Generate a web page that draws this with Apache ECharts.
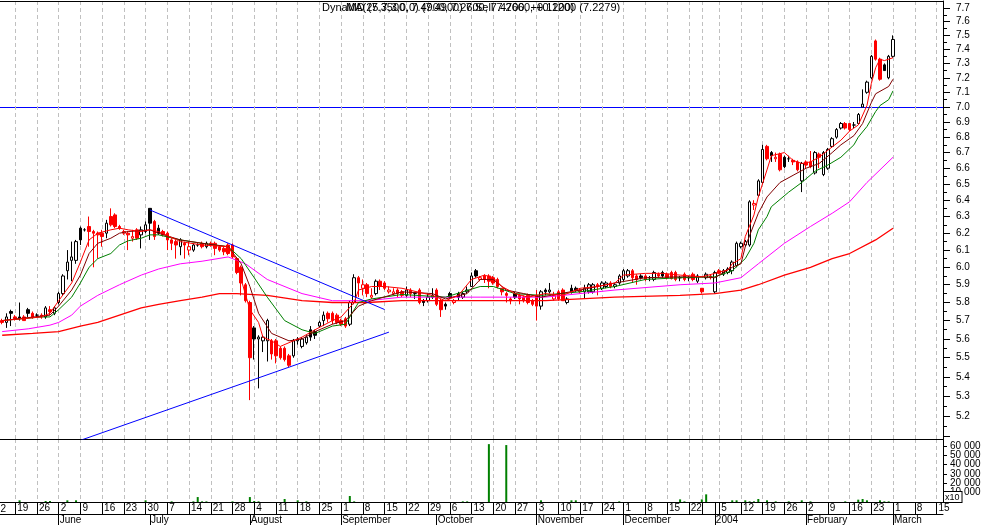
<!DOCTYPE html>
<html>
<head>
<meta charset="utf-8">
<title>DynaMD</title>
<script src="https://cdn.jsdelivr.net/npm/echarts@6.0.0/dist/echarts.min.js"></script>
<style>
html,body{margin:0;padding:0;background:#ffffff;}
#chart{width:982px;height:525px;}
</style>
</head>
<body>
<div id="chart"></div>
<script>
const FONT = '"Liberation Sans", Arial, sans-serif';

// ---- calendar of the axis ----
const axisStart = '2003-05-14';
const axisEnd = '2004-03-16';
const holidays = ['2003-12-25', '2003-12-26', '2004-01-01'];
const monthLabels = ['June', 'July', 'August', 'September', 'October', 'November', 'December', '2004', 'February', 'March'];

// ---- price data (one entry per trading day from 2003-05-14) ----
const open = [5.70,5.69,5.75,5.72,5.72,5.72,5.76,5.74,5.73,5.73,
5.72,5.76,5.74,5.80,5.85,5.98,6.04,6.04,6.23,6.22,
6.24,6.21,6.20,6.20,6.20,6.30,6.31,6.24,6.20,6.20,
6.17,6.22,6.19,6.21,6.35,6.27,6.23,6.21,6.20,6.16,
6.15,6.12,6.14,6.10,6.10,6.13,6.14,6.12,6.14,6.14,
6.12,6.11,6.13,6.13,6.05,6.00,5.90,5.80,5.66,5.60,
5.59,5.59,5.59,5.59,5.55,5.55,5.51,5.51,5.59,5.56,
5.58,5.65,5.64,5.67,5.70,5.74,5.74,5.73,5.70,5.71,
5.68,5.80,5.94,5.88,5.90,5.83,5.85,5.92,5.91,5.86,
5.85,5.87,5.86,5.84,5.87,5.85,5.87,5.81,5.81,5.83,
5.87,5.81,5.79,5.85,5.80,5.85,5.83,5.86,5.89,5.98,
5.93,5.95,5.95,5.94,5.93,5.88,5.85,5.82,5.85,5.84,
5.83,5.84,5.81,5.84,5.78,5.87,5.86,5.82,5.86,5.87,
5.80,5.88,5.88,5.87,5.86,5.86,5.86,5.90,5.88,5.89,
5.91,5.89,5.91,5.93,5.95,5.98,5.95,5.95,5.95,5.94,
5.93,5.96,5.97,5.96,5.97,5.97,5.94,5.96,5.94,5.96,
5.92,5.88,5.94,5.95,5.86,5.98,5.96,5.97,5.98,6.01,
6.12,6.13,6.13,6.37,6.43,6.51,6.74,6.70,6.66,6.69,
6.67,6.66,6.65,6.64,6.52,6.64,6.64,6.57,6.69,6.56,
6.60,6.74,6.80,6.86,6.89,6.89,6.88,6.89,7.00,7.10,
7.20,7.46,7.33,7.29,7.20,7.35];
const high = [5.71,5.74,5.76,5.73,5.80,5.73,5.77,5.75,5.74,5.74,
5.78,5.78,5.78,5.86,5.96,6.10,6.15,6.16,6.24,6.23,
6.30,6.22,6.21,6.22,6.28,6.35,6.32,6.25,6.22,6.21,
6.22,6.23,6.24,6.27,6.35,6.28,6.25,6.22,6.21,6.17,
6.16,6.17,6.15,6.15,6.14,6.14,6.15,6.15,6.15,6.15,
6.13,6.12,6.14,6.14,6.06,6.01,5.91,5.81,5.67,5.62,
5.62,5.71,5.60,5.60,5.56,5.56,5.52,5.60,5.61,5.61,
5.62,5.67,5.65,5.70,5.75,5.75,5.75,5.74,5.71,5.72,
5.81,5.96,5.95,5.93,5.91,5.88,5.93,5.93,5.92,5.89,
5.88,5.88,5.87,5.89,5.88,5.86,5.88,5.82,5.85,5.88,
5.88,5.82,5.80,5.86,5.82,5.86,5.86,5.89,5.97,5.99,
5.95,5.96,5.96,5.95,5.94,5.88,5.86,5.83,5.86,5.85,
5.84,5.85,5.82,5.87,5.87,5.88,5.91,5.86,5.87,5.88,
5.83,5.90,5.89,5.88,5.90,5.91,5.91,5.91,5.92,5.92,
5.92,5.91,5.96,5.99,5.99,5.99,5.96,5.96,5.96,5.95,
5.98,5.97,5.98,5.97,5.98,5.98,5.95,5.97,5.95,5.97,
5.96,5.88,5.97,5.96,5.98,5.99,5.99,6.00,6.04,6.15,
6.15,6.16,6.40,6.40,6.53,6.75,6.75,6.71,6.70,6.70,
6.68,6.68,6.66,6.65,6.64,6.65,6.71,6.71,6.70,6.71,
6.73,6.80,6.86,6.90,6.90,6.89,6.90,6.96,7.12,7.18,
7.36,7.47,7.34,7.30,7.36,7.50];
const low = [5.68,5.66,5.67,5.70,5.70,5.70,5.72,5.71,5.72,5.71,
5.71,5.73,5.73,5.79,5.84,5.93,5.92,6.02,6.13,6.21,
6.12,6.00,6.05,6.12,6.17,6.24,6.23,6.22,6.19,6.10,
6.15,6.16,6.11,6.20,6.16,6.16,6.19,6.18,6.10,6.10,
6.05,6.07,6.05,6.07,6.09,6.12,6.11,6.11,6.12,6.07,
6.09,6.07,6.07,6.05,5.96,5.84,5.80,5.28,5.49,5.34,
5.53,5.48,5.49,5.47,5.49,5.48,5.45,5.50,5.57,5.55,
5.57,5.59,5.60,5.66,5.67,5.69,5.68,5.68,5.67,5.66,
5.67,5.79,5.83,5.84,5.83,5.82,5.84,5.87,5.87,5.85,
5.84,5.83,5.83,5.83,5.83,5.82,5.79,5.78,5.80,5.82,
5.78,5.72,5.76,5.82,5.79,5.81,5.82,5.85,5.89,5.94,
5.92,5.91,5.88,5.90,5.88,5.84,5.80,5.79,5.82,5.79,
5.80,5.79,5.78,5.70,5.76,5.84,5.85,5.81,5.81,5.81,
5.79,5.85,5.86,5.85,5.82,5.85,5.85,5.84,5.87,5.88,
5.88,5.88,5.90,5.92,5.94,5.91,5.90,5.93,5.92,5.92,
5.92,5.94,5.94,5.93,5.93,5.92,5.92,5.92,5.92,5.92,
5.91,5.85,5.93,5.93,5.85,5.96,5.95,5.96,5.96,6.00,
6.11,6.12,6.12,6.34,6.42,6.50,6.65,6.64,6.64,6.58,
6.60,6.64,6.62,6.58,6.45,6.60,6.60,6.56,6.60,6.55,
6.59,6.73,6.79,6.85,6.85,6.84,6.86,6.88,7.00,7.09,
7.19,7.32,7.18,7.25,7.19,7.34];
const close = [5.69,5.72,5.74,5.71,5.71,5.70,5.74,5.72,5.73,5.72,
5.77,5.75,5.77,5.85,5.95,6.03,6.06,6.15,6.16,6.22,
6.21,6.20,6.19,6.18,6.26,6.25,6.24,6.23,6.21,6.19,
6.18,6.17,6.22,6.25,6.26,6.18,6.20,6.19,6.16,6.14,
6.13,6.16,6.13,6.12,6.13,6.13,6.12,6.14,6.13,6.11,
6.10,6.09,6.08,6.06,5.97,5.91,5.81,5.50,5.60,5.61,
5.61,5.70,5.52,5.51,5.50,5.49,5.46,5.59,5.60,5.60,
5.61,5.61,5.62,5.69,5.73,5.71,5.70,5.69,5.68,5.67,
5.80,5.94,5.91,5.90,5.85,5.84,5.92,5.89,5.88,5.87,
5.86,5.85,5.84,5.87,5.85,5.85,5.80,5.80,5.83,5.84,
5.79,5.76,5.78,5.83,5.81,5.83,5.85,5.87,5.95,5.95,
5.94,5.93,5.92,5.91,5.89,5.86,5.84,5.81,5.83,5.82,
5.81,5.80,5.79,5.78,5.86,5.86,5.87,5.84,5.82,5.81,
5.82,5.86,5.87,5.86,5.88,5.90,5.90,5.89,5.91,5.91,
5.89,5.90,5.95,5.98,5.98,5.94,5.93,5.94,5.93,5.94,
5.97,5.95,5.95,5.94,5.935,5.93,5.94,5.93,5.94,5.93,
5.95,5.86,5.96,5.94,5.97,5.965,5.98,5.99,6.03,6.14,
6.14,6.15,6.39,6.38,6.52,6.72,6.66,6.68,6.67,6.59,
6.61,6.66,6.64,6.59,6.63,6.62,6.61,6.70,6.67,6.70,
6.72,6.79,6.85,6.89,6.86,6.85,6.88,6.95,7.02,7.17,
7.35,7.33,7.19,7.25,7.35,7.47];

// ---- moving averages: [day index, price] ----
const maFast = [[0,5.70],[9,5.72],[11,5.74],[13,5.81],[16,5.91],[18,6.03],[20,6.16],[22,6.20],[25,6.22],[27,6.23],[29,6.22],[32,6.21],[34,6.22],[36,6.21],[41,6.15],[46,6.13],[52,6.12],[54,6.04],[55,5.93],[57,5.76],[59,5.69],[60,5.61],[62,5.59],[64,5.56],[66,5.58],[69,5.61],[72,5.65],[76,5.70],[78,5.72],[81,5.80],[82,5.87],[85,5.89],[88,5.89],[92,5.88],[99,5.84],[102,5.81],[105,5.84],[108,5.93],[111,5.955],[113,5.94],[115,5.89],[118,5.85],[121,5.83],[125,5.85],[129,5.84],[133,5.88],[137,5.89],[141,5.91],[143,5.955],[148,5.965],[152,5.965],[156,5.955],[161,5.945],[164,5.965],[167,5.985],[168,6.02],[170,6.05],[171,6.18],[173,6.31],[174,6.42],[176,6.59],[177,6.68],[180,6.70],[182,6.65],[184,6.63],[186,6.64],[188,6.67],[190,6.715],[193,6.78],[195,6.84],[197,6.88],[199,7.01],[200,7.16],[201,7.27],[202,7.33],[203,7.32],[205,7.34]];
const maMaroon = [[0,5.70],[11,5.73],[13,5.78],[16,5.87],[18,5.955],[20,6.08],[22,6.14],[25,6.17],[27,6.20],[29,6.21],[32,6.215],[34,6.22],[36,6.20],[41,6.16],[46,6.14],[52,6.12],[55,6.02],[57,5.89],[59,5.74],[62,5.63],[66,5.59],[69,5.60],[72,5.64],[76,5.68],[79,5.70],[82,5.78],[85,5.81],[92,5.86],[99,5.85],[102,5.82],[107,5.85],[110,5.93],[113,5.93],[116,5.87],[120,5.85],[124,5.83],[133,5.87],[141,5.91],[148,5.94],[156,5.945],[161,5.945],[164,5.94],[168,6.00],[170,6.02],[171,6.12],[174,6.32],[176,6.42],[179,6.51],[182,6.555],[185,6.60],[188,6.63],[191,6.70],[193,6.75],[196,6.81],[198,6.89],[200,7.03],[201,7.09],[204,7.14],[205,7.19]];
const maGreen = [[0,5.70],[9,5.72],[11,5.72],[13,5.76],[16,5.83],[18,5.91],[20,6.00],[22,6.05],[25,6.08],[27,6.13],[29,6.155],[32,6.17],[34,6.19],[36,6.19],[41,6.16],[46,6.14],[52,6.12],[55,6.05],[58,5.94],[61,5.83],[65,5.70],[69,5.65],[72,5.63],[76,5.67],[79,5.68],[82,5.80],[85,5.82],[92,5.845],[102,5.83],[110,5.89],[113,5.89],[118,5.85],[124,5.84],[133,5.86],[141,5.89],[148,5.93],[156,5.94],[164,5.945],[168,5.98],[171,6.05],[173,6.14],[174,6.22],[176,6.30],[177,6.36],[181,6.45],[184,6.51],[187,6.58],[190,6.62],[193,6.67],[196,6.75],[197,6.80],[199,6.87],[201,6.97],[202,7.01],[204,7.05],[205,7.11]];
const maMagenta = [[0,5.64],[6,5.655],[11,5.675],[13,5.69],[16,5.73],[18,5.78],[22,5.84],[27,5.90],[32,5.955],[36,5.99],[41,6.02],[46,6.035],[52,6.06],[56,6.02],[61,5.93],[69,5.85],[76,5.81],[84,5.81],[92,5.83],[110,5.83],[125,5.83],[141,5.87],[156,5.90],[164,5.91],[170,5.94],[174,6.02],[180,6.14],[186,6.24],[191,6.32],[195,6.39],[199,6.51],[205,6.67]];
const maSlow = [[0,5.62],[7,5.63],[13,5.64],[18,5.67],[22,5.69],[27,5.73],[32,5.77],[36,5.79],[41,5.81],[46,5.83],[50,5.85],[54,5.85],[61,5.84],[69,5.81],[76,5.80],[84,5.80],[92,5.81],[110,5.81],[125,5.81],[141,5.83],[156,5.84],[164,5.85],[170,5.87],[174,5.90],[180,5.955],[186,6.00],[191,6.05],[195,6.08],[201,6.16],[205,6.23]];

// ---- trend lines and reference level ----
const trendDown = [[34,6.34],[88,5.761]];
const trendUp = [[18,5.0796],[89,5.637]];
const refLevels = [7.0];

// ---- volume (units of 10): [day index, volume] ----
const volume = [[4,1800],[10,1100],[11,1100],[15,1800],[17,1800],[33,1800],[39,700],[44,700],[45,5300],[46,700],[47,700],[53,700],[57,5300],[58,1100],[59,700],[65,3200],[68,1800],[70,700],[80,6400],[81,700],[106,700],[107,700],[112,62000],[116,61000],[124,1800],[131,1800],[132,1800],[142,700],[156,2800],[157,700],[161,2800],[162,8200],[168,1800],[169,1800],[171,1800],[172,700],[173,700],[174,3200],[176,1800],[178,700],[181,700],[184,1800],[186,700],[194,700],[197,2500],[198,3200],[199,1800],[202,1800],[203,700],[204,700]];

// ---- axis tick values ----
const priceLabels = [5.2,5.3,5.4,5.5,5.6,5.7,5.8,5.9,6.0,6.1,6.2,6.3,6.4,6.5,6.6,6.7,6.8,6.9,7.0,7.1,7.2,7.3,7.4,7.5,7.6,7.7];
const priceMajorTicks = [5.1].concat(priceLabels);
const priceMinorTicks = [5.15,5.25,5.35,5.45,5.55,5.65,5.75,5.85,5.95,6.05,6.15,6.25,6.35,6.45,6.55,6.65,6.75,6.85,6.95,7.05,7.15,7.25,7.35,7.45,7.55,7.65];
const priceMin = 5.0862, priceMax = 7.752;
const volumeMax = 67500, volumeStep = 10000;

const titleMain = 'DynaMD (7.3500, 7.4900, 7.2600, 7.4700, +0.1200)';
const titleOverlay = 'MA(25,7,3,0,0) (7.4900) 7.Sell 7.2660, +0.1200 (7.2279)';

// ---- build categories ----
function tradingDays() {
  const out = [];
  let t = Date.parse(axisStart + 'T00:00:00Z');
  const end = Date.parse(axisEnd + 'T00:00:00Z');
  while (t <= end) {
    const d = new Date(t);
    const wd = d.getUTCDay();
    const s = d.toISOString().slice(0, 10);
    if (wd !== 0 && wd !== 6 && holidays.indexOf(s) < 0) out.push(s);
    t += 86400000;
  }
  return out;
}
const days = tradingDays();
const isMonthStart = days.map((s, i) => i > 0 && s.slice(5, 7) !== days[i - 1].slice(5, 7));
const isYearStart = days.map((s, i) => i > 0 && s.slice(0, 4) !== days[i - 1].slice(0, 4));
const isMonday = days.map(s => new Date(s + 'T00:00:00Z').getUTCDay() === 1);
const isDayTick = days.map((s, i) => isMonday[i] || isYearStart[i]);
// a Monday label is written unless its box is cut short by a year boundary tick
const showDayLabel = days.map((s, i) => {
  if (!isMonday[i]) return false;
  for (let j = i + 1; j < days.length; j++) if (isDayTick[j]) return isMonday[j];
  return true;
});
const monthLabelByIndex = {};
(function () { let k = 0; days.forEach((s, i) => { if (isMonthStart[i]) monthLabelByIndex[i] = monthLabels[k++]; }); })();

const candleData = open.map((o, i) => {
  const c = close[i];
  const prev = i > 0 ? close[i - 1] : Infinity;
  const col = c < prev ? '#ff0000' : '#000000';
  const fill = c > o ? '#ffffff' : col;
  return {
    value: [o, c, low[i], high[i]],
    itemStyle: { color: fill, color0: fill, borderColor: col, borderColor0: col, borderColorDoji: col }
  };
});

const gridLine = { show: true, alignWithLabel: true, interval: (i) => isMonday[i], lineStyle: { color: '#c0c0c0', width: 1, type: [4, 3] } };
const txt = { fontFamily: FONT, fontSize: 10, color: '#000000' };

function lineSeries(data, color, width) {
  return { type: 'line', xAxisIndex: 0, yAxisIndex: 0, data: data, showSymbol: false, symbol: 'none', smooth: false,
    lineStyle: { color: color, width: width }, itemStyle: { color: color }, z: 4, silent: true };
}

const option = {
  animation: false,
  backgroundColor: '#ffffff',
  title: [
    { text: titleMain, left: 322, top: 2, padding: 0, textStyle: { fontFamily: FONT, fontSize: 11, fontWeight: 'normal', color: '#000' } },
    { text: titleOverlay, left: 346, top: 2, padding: 0, textStyle: { fontFamily: FONT, fontSize: 11, fontWeight: 'normal', color: '#000' } }
  ],
  grid: [
    { left: 0, right: 39, top: 1, height: 438, outerBoundsMode: 'none', containLabel: false },
    { left: 0, right: 39, top: 439, height: 63, outerBoundsMode: 'none', containLabel: false }
  ],
  xAxis: [
    { gridIndex: 0, type: 'category', data: days, boundaryGap: true, position: 'bottom',
      axisLine: { show: true, onZero: false, lineStyle: { color: '#000', width: 1 } }, axisTick: { show: false }, axisLabel: { show: false },
      splitLine: gridLine },
    { gridIndex: 0, type: 'category', data: days, boundaryGap: true, position: 'top',
      axisLine: { show: true, onZero: false, lineStyle: { color: '#000', width: 1 } }, axisTick: { show: false }, axisLabel: { show: false }, splitLine: { show: false } },
    { gridIndex: 1, type: 'category', data: days, boundaryGap: true, position: 'bottom',
      axisLine: { show: true, onZero: false, lineStyle: { color: '#000', width: 1 } },
      axisTick: { show: true, interval: (i) => isDayTick[i], alignWithLabel: true, inside: false, length: 12, lineStyle: { color: '#000', width: 1 } },
      axisLabel: Object.assign({ show: true, interval: (i) => showDayLabel[i], formatter: (v) => String(Number(v.slice(8))), align: 'left', margin: 1, padding: [0, 0, 0, 2] }, txt),
      splitLine: gridLine },
    { gridIndex: 1, type: 'category', data: days, boundaryGap: true, position: 'bottom', offset: 12,
      axisLine: { show: true, onZero: false, lineStyle: { color: '#000', width: 1 } },
      axisTick: { show: true, interval: (i) => isMonthStart[i], alignWithLabel: true, inside: false, length: 11, lineStyle: { color: '#000', width: 1 } },
      axisLabel: Object.assign({ show: true, interval: (i) => isMonthStart[i], formatter: (v, i) => monthLabelByIndex[i] || '', align: 'left', margin: 1, padding: [0, 0, 0, 1] }, txt),
      splitLine: { show: false } }
  ],
  yAxis: [
    { gridIndex: 0, type: 'log', logBase: 10, min: priceMin, max: priceMax, position: 'right',
      axisLine: { show: true, lineStyle: { color: '#000', width: 1 } },
      axisTick: { show: true, customValues: priceMajorTicks, length: 7, inside: false, lineStyle: { color: '#000' } },
      axisLabel: Object.assign({ show: true, customValues: priceLabels, formatter: (v) => Number(v).toFixed(1), margin: 13, align: 'left' }, txt),
      splitLine: { show: false } },
    { gridIndex: 0, type: 'log', logBase: 10, min: priceMin, max: priceMax, position: 'right',
      axisLine: { show: false },
      axisTick: { show: true, customValues: priceMinorTicks, length: 4, inside: false, lineStyle: { color: '#000' } },
      axisLabel: { show: false }, splitLine: { show: false } },
    { gridIndex: 1, type: 'value', min: 0, max: volumeMax, interval: volumeStep, position: 'right',
      axisLine: { show: true, lineStyle: { color: '#000', width: 1 } },
      axisTick: { show: true, length: 4, inside: false, lineStyle: { color: '#000' } },
      axisLabel: Object.assign({ show: true, margin: 7, align: 'left', showMaxLabel: false,
        formatter: (v) => v === 0 ? '' : (v / 1000) + ' 000' }, txt),
      splitLine: { show: false } },
    // reference level (7.0) drawn as the split line of a hidden price axis
    { gridIndex: 0, type: 'log', logBase: 10, min: priceMin, max: priceMax, position: 'left',
      axisLine: { show: false },
      axisTick: { show: false, customValues: refLevels },
      axisLabel: { show: false, customValues: refLevels },
      splitLine: { show: true, lineStyle: { color: ['#0000ff'], width: 1, type: 'solid' } } }
  ],
  series: [
    { type: 'candlestick', name: 'DynaMD', xAxisIndex: 0, yAxisIndex: 0, data: candleData, barWidth: 3, z: 3, silent: true },
    lineSeries(maSlow, '#ff0000', 1.3),
    lineSeries(maMagenta, '#ff00ff', 1),
    lineSeries(maGreen, '#008000', 1),
    lineSeries(maMaroon, '#800000', 1),
    lineSeries(maFast, '#ff0000', 1),
    lineSeries(trendDown, '#0000ff', 1),
    lineSeries(trendUp, '#0000ff', 1),
    { type: 'bar', xAxisIndex: 2, yAxisIndex: 2, data: volume, barWidth: 2, itemStyle: { color: '#008000' }, silent: true }
  ],
  graphic: [
    { type: 'text', x: -5, y: 504, silent: true, style: { text: '12', font: '10px ' + FONT, fill: '#000' } },
    { type: 'text', x: 944, y: 492, z: 100, silent: true,
      style: { text: 'x10', font: '9px ' + FONT, fill: '#000', backgroundColor: '#ffffff', borderColor: '#000', borderWidth: 1, padding: [1, 2, 0, 1] } }
  ]
};

const chart = echarts.init(document.getElementById('chart'), null, { renderer: 'canvas' });
chart.setOption(option);
</script>
</body>
</html>
